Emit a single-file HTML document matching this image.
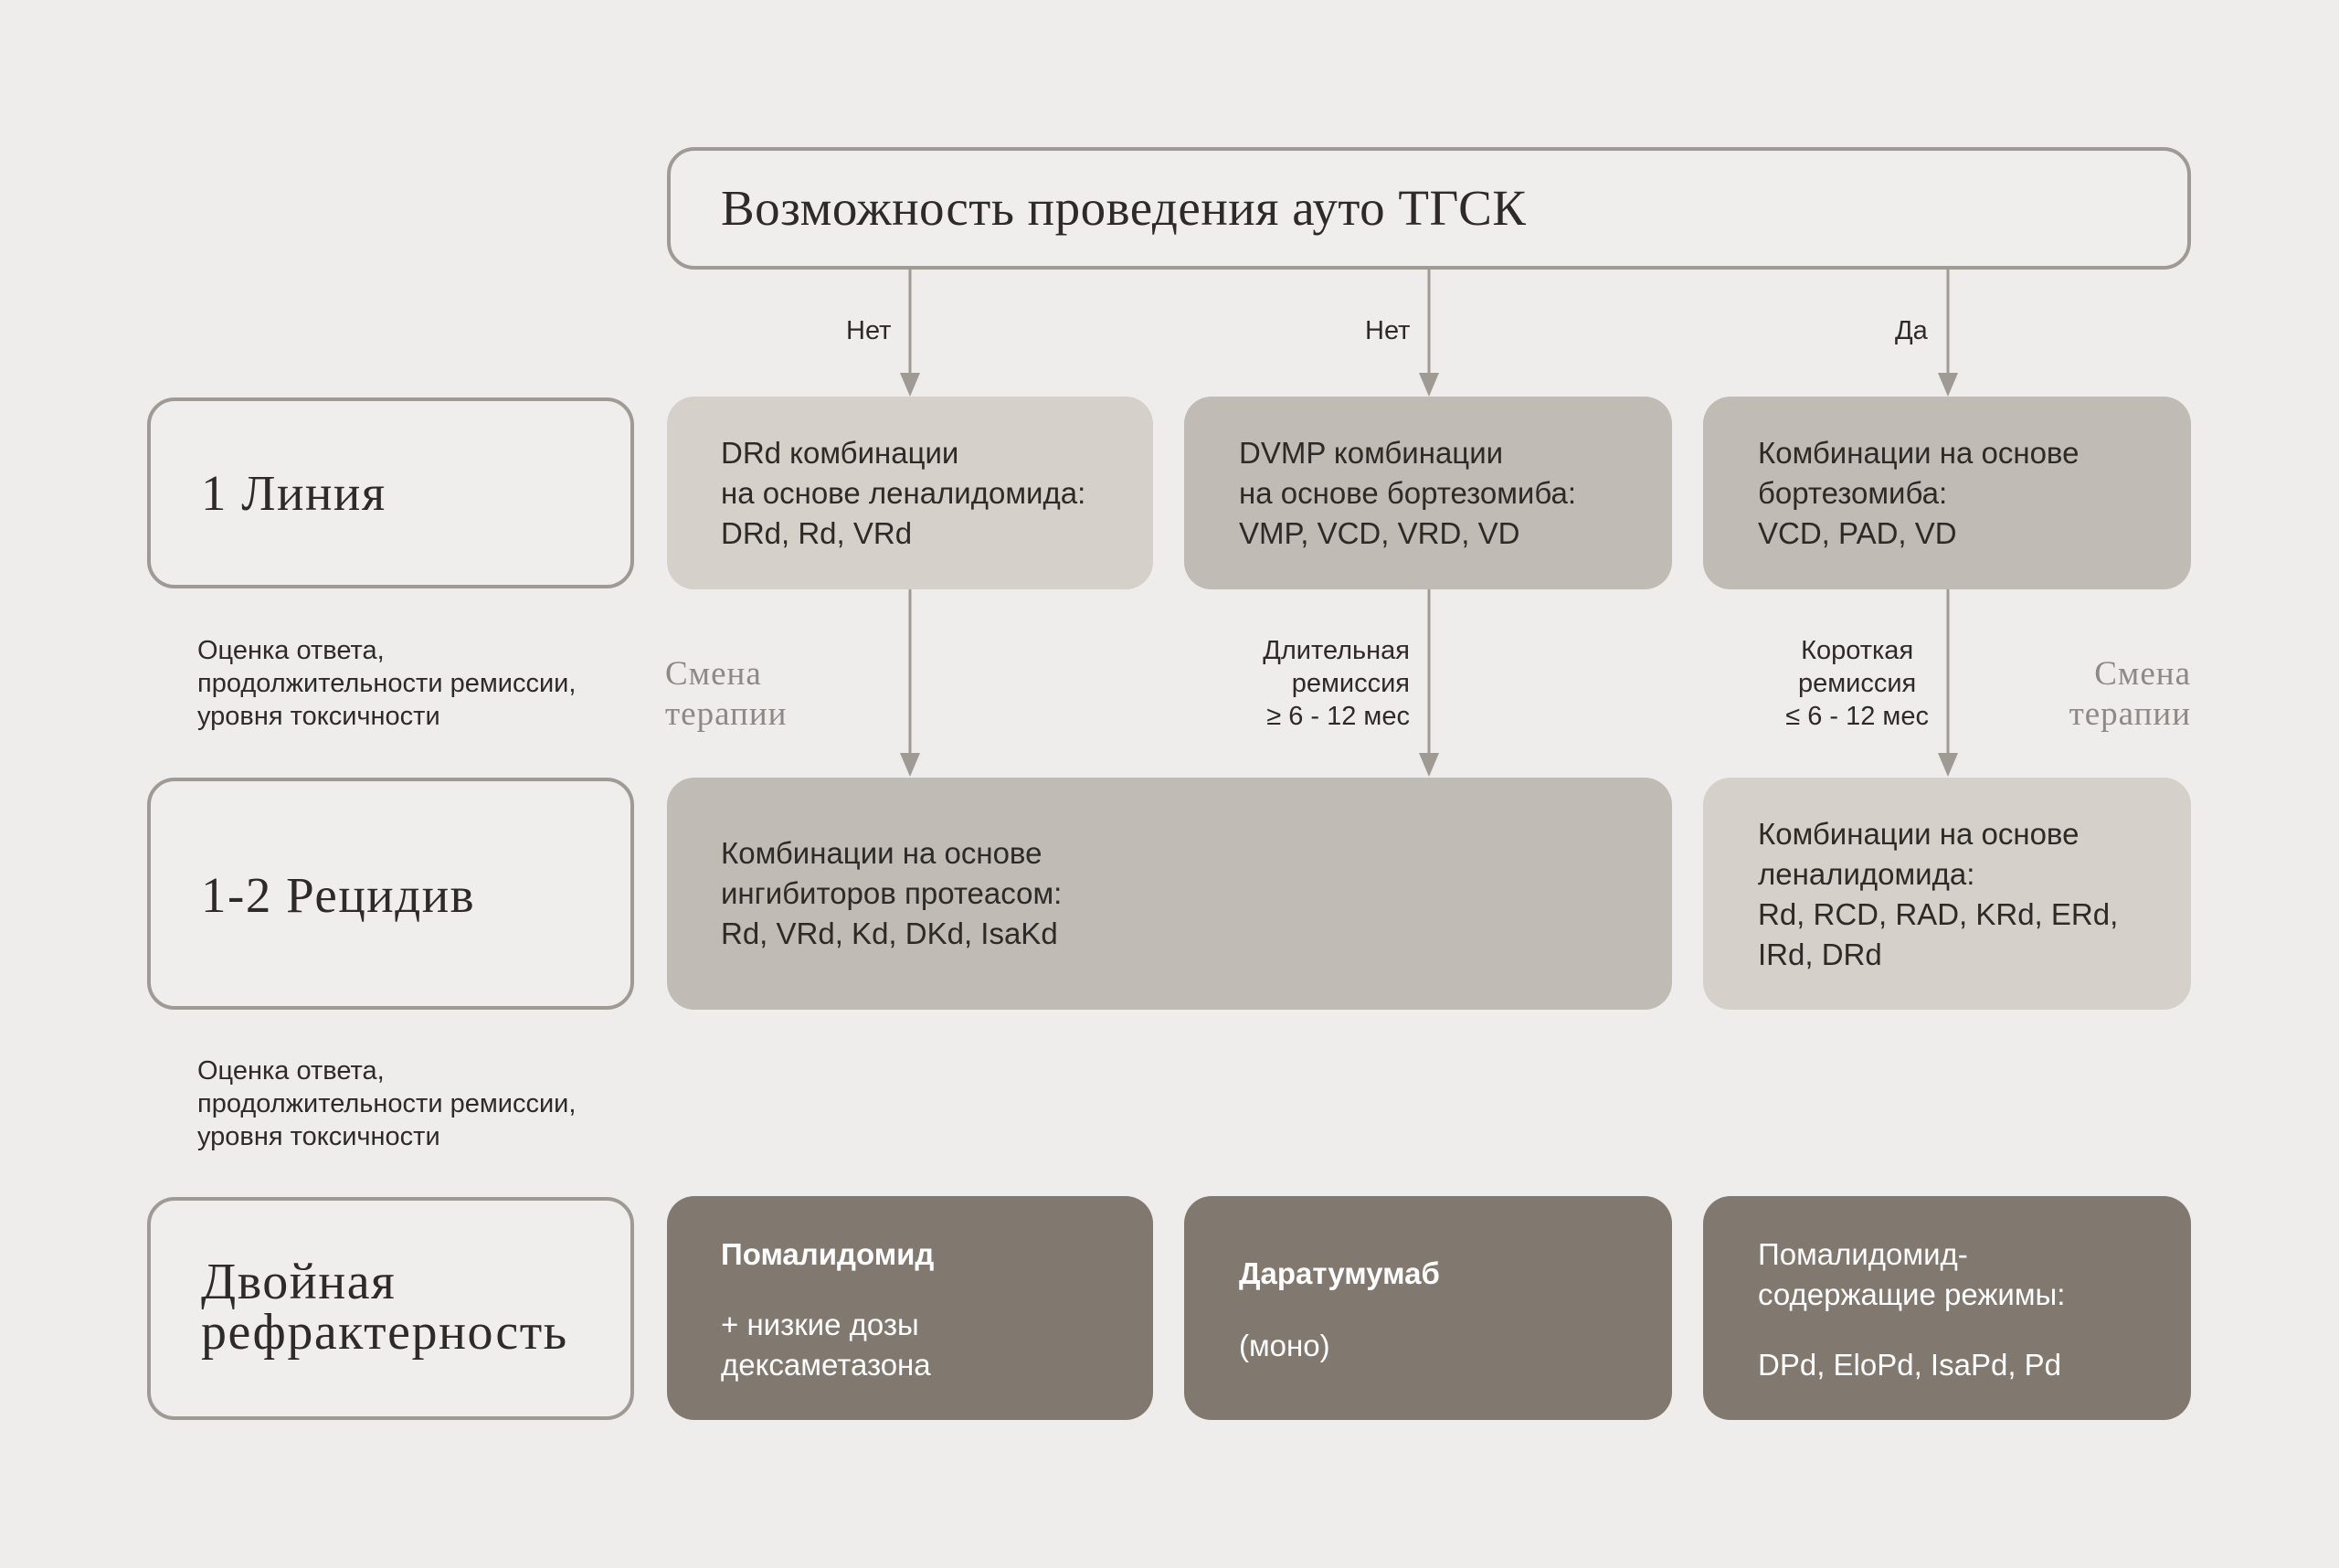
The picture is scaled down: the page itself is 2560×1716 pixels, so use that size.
<!DOCTYPE html>
<html><head><meta charset="utf-8"><style>
*{margin:0;padding:0;box-sizing:border-box}
body{width:2560px;height:1716px;background:#eeedeb;position:relative;overflow:hidden;font-family:"Liberation Sans","Noto Sans CJK SC",sans-serif;color:#2e2a27}
.b{position:absolute;border-radius:30px}
.o{border:4px solid #a09a95;background:#efeeec}
.t{position:absolute;white-space:nowrap}
.s{font-size:33px;line-height:44px}
.serif{font-family:"Liberation Serif","Noto Serif CJK SC",serif}
.n{font-size:29px;line-height:36px}
.g{color:#8e8984;font-size:37px;line-height:44px;letter-spacing:1px}
.w{color:#fff}
</style></head><body>
<div class="b o" style="left:730px;top:161px;width:1668px;height:134px"></div>
<div class="t serif" style="left:789px;top:196px;font-size:55px;line-height:64px;letter-spacing:0.5px">Возможность проведения ауто ТГСК</div>

<div class="b o" style="left:161px;top:435px;width:533px;height:209px"></div>
<div class="b o" style="left:161px;top:851px;width:533px;height:254px"></div>
<div class="b o" style="left:161px;top:1310px;width:533px;height:244px"></div>
<div class="t serif" style="left:220px;top:510px;font-size:55px;line-height:60px;letter-spacing:1.5px">1 Линия</div>
<div class="t serif" style="left:220px;top:950px;font-size:55px;line-height:60px;letter-spacing:1.5px">1-2 Рецидив</div>
<div class="t serif" style="left:220px;top:1376px;font-size:56px;line-height:55px;letter-spacing:1.5px">Двойная<br>рефрактерность</div>

<div class="b" style="left:730px;top:434px;width:532px;height:211px;background:#d5d0ca"></div>
<div class="b" style="left:1296px;top:434px;width:534px;height:211px;background:#c0bbb5"></div>
<div class="b" style="left:1864px;top:434px;width:534px;height:211px;background:#c0bbb5"></div>
<div class="b" style="left:730px;top:851px;width:1100px;height:254px;background:#c0bbb5"></div>
<div class="b" style="left:1864px;top:851px;width:534px;height:254px;background:#d5d0ca"></div>
<div class="b" style="left:730px;top:1309px;width:532px;height:245px;background:#81786f"></div>
<div class="b" style="left:1296px;top:1309px;width:534px;height:245px;background:#81786f"></div>
<div class="b" style="left:1864px;top:1309px;width:534px;height:245px;background:#81786f"></div>

<div class="t s" style="left:789px;top:474px">DRd комбинации<br>на основе леналидомида:<br>DRd, Rd, VRd</div>
<div class="t s" style="left:1356px;top:474px">DVMP комбинации<br>на основе бортезомиба:<br>VMP, VCD, VRD, VD</div>
<div class="t s" style="left:1924px;top:474px">Комбинации на основе<br>бортезомиба:<br>VCD, PAD, VD</div>
<div class="t s" style="left:789px;top:912px">Комбинации на основе<br>ингибиторов протеасом:<br>Rd, VRd, Kd, DKd, IsaKd</div>
<div class="t s" style="left:1924px;top:891px">Комбинации на основе<br>леналидомида:<br>Rd, RCD, RAD, KRd, ERd,<br>IRd, DRd</div>
<div class="t s w" style="left:789px;top:1351px;font-weight:bold">Помалидомид</div>
<div class="t s w" style="left:789px;top:1428px">+ низкие дозы<br>дексаметазона</div>
<div class="t s w" style="left:1356px;top:1372px;font-weight:bold">Даратумумаб</div>
<div class="t s w" style="left:1356px;top:1451px">(моно)</div>
<div class="t s w" style="left:1924px;top:1351px">Помалидомид-<br>содержащие режимы:</div>
<div class="t s w" style="left:1924px;top:1472px">DPd, EloPd, IsaPd, Pd</div>

<div class="t n" style="left:216px;top:694px">Оценка ответа,<br>продолжительности ремиссии,<br>уровня токсичности</div>
<div class="t n" style="left:216px;top:1154px">Оценка ответа,<br>продолжительности ремиссии,<br>уровня токсичности</div>
<div class="t n" style="left:926px;top:344px">Нет</div>
<div class="t n" style="left:1494px;top:344px">Нет</div>
<div class="t n" style="left:2074px;top:344px">Да</div>
<div class="t n" style="right:1017px;top:694px;text-align:right">Длительная<br>ремиссия<br>≥ 6 - 12 мес</div>
<div class="t n" style="right:449px;top:694px;text-align:center">Короткая<br>ремиссия<br>≤ 6 - 12 мес</div>
<div class="t g serif" style="left:728px;top:716px">Смена<br>терапии</div>
<div class="t g serif" style="right:162px;top:716px;text-align:right">Смена<br>терапии</div>

<svg width="2560" height="1716" style="position:absolute;left:0;top:0">
<g stroke="#a09a95" stroke-width="3" fill="#a09a95">
<line x1="996" y1="295" x2="996" y2="410"/><polygon points="985,408 1007,408 996,434" stroke="none"/>
<line x1="1564" y1="295" x2="1564" y2="410"/><polygon points="1553,408 1575,408 1564,434" stroke="none"/>
<line x1="2132" y1="295" x2="2132" y2="410"/><polygon points="2121,408 2143,408 2132,434" stroke="none"/>
<line x1="996" y1="645" x2="996" y2="826"/><polygon points="985,824 1007,824 996,850" stroke="none"/>
<line x1="1564" y1="645" x2="1564" y2="826"/><polygon points="1553,824 1575,824 1564,850" stroke="none"/>
<line x1="2132" y1="645" x2="2132" y2="826"/><polygon points="2121,824 2143,824 2132,850" stroke="none"/>
</g></svg>
</body></html>
